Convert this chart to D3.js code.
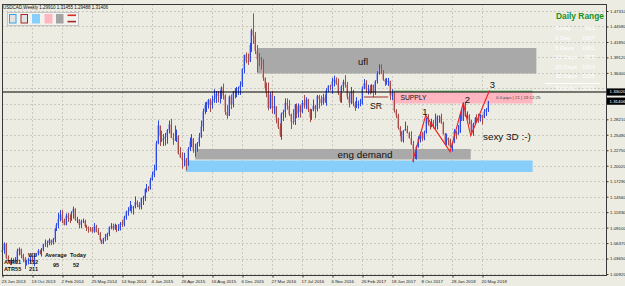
<!DOCTYPE html>
<html>
<head>
<meta charset="utf-8">
<script src="https://cdn.jsdelivr.net/npm/d3@7"></script>
<style>
  body { margin: 0; background: #ecece2; }
  svg { display: block; }
  text { font-family: "Liberation Sans", Arial, sans-serif; }
</style>
</head>
<body>
<svg id="chart" width="625" height="286"></svg>
<script>
// USDCAD weekly, 23 Jun 2013 .. 10 Jun 2018 (open of a week = close of the week before)
const firstOpen = 1.0480
const closes = [
  // 2013
  1.0515,1.0620,1.0380,1.0320,1.0290,1.0320,1.0300,1.0310,1.0500,1.0530,1.0430,1.0360,1.0300,1.0310,
  1.0320,1.0360,1.0320,1.0420,1.0450,1.0500,1.0450,1.0520,1.0620,1.0640,1.0640,1.0690,1.0640,1.0700,
  // 2014
  1.0890,1.0960,1.1060,1.1140,1.1040,1.0960,1.1120,1.1080,1.1060,1.1170,1.1240,1.1050,1.1050,
  1.0960,1.1020,1.1030,1.0930,1.0920,1.0890,1.0880,1.0840,1.0930,1.0840,1.0810,1.0690,1.0640,
  1.0720,1.0740,1.0800,1.0920,1.0940,1.0890,1.0960,1.0870,1.0880,1.0980,1.0960,1.1090,1.1190,
  1.1200,1.1290,1.1250,1.1280,1.1360,1.1320,1.1270,1.1430,1.1430,1.1590,1.1600,1.1590,1.1750,
  // 2015
  1.1840,1.1920,1.2400,1.2710,1.2520,1.2450,1.2480,1.2510,1.2630,1.2730,1.2490,1.2460,1.2460,
  1.2520,1.2220,1.2150,1.2110,1.2110,1.2010,1.2300,1.2430,1.2480,1.2270,1.2270,1.2400,1.2510,
  1.2690,1.2960,1.3070,1.3080,1.3160,1.3070,1.3150,1.3180,1.3270,1.3240,1.3250,1.3380,1.3240,
  1.2950,1.2880,1.3220,1.3080,1.3310,1.3330,1.3350,1.3370,1.3420,1.3710,1.3960,1.3850,1.3840,
  // 2016
  1.4130,1.4390,1.4300,1.4030,1.3880,1.3850,1.3770,1.3550,1.3370,1.3280,1.3020,1.3260,1.3020,
  1.3050,1.2840,1.2680,1.2550,1.2910,1.2950,1.3110,1.3060,1.2910,1.2780,1.2770,1.3080,1.2920,
  1.3060,1.2950,1.3110,1.3060,1.3170,1.3000,1.2850,1.2980,1.3060,1.3000,1.3230,1.3180,1.3110,
  1.3210,1.3130,1.3330,1.3410,1.3400,1.3490,1.3520,1.3450,1.3280,1.3150,1.3400,1.3480,1.3430,
  // 2017
  1.3220,1.3110,1.3300,1.3100,1.3020,1.3070,1.3090,1.3090,1.3380,1.3460,1.3350,1.3360,1.3300,
  1.3430,1.3300,1.3490,1.3650,1.3720,1.3660,1.3520,1.3480,1.3480,1.3500,1.3240,1.3290,1.2970,
  1.2890,1.2670,1.2590,1.2440,1.2620,1.2650,1.2580,1.2490,1.2380,1.2130,1.2190,1.2340,1.2480,
  1.2560,1.2480,1.2590,1.2840,1.2750,1.2690,1.2770,1.2700,1.2700,1.2870,1.2870,1.2760,1.2560,
  // 2018
  1.2400,1.2490,1.2450,1.2330,1.2400,1.2610,1.2550,1.2590,1.2900,1.2800,1.3110,1.2880,
  1.2890,1.2800,1.2600,1.2740,1.2840,1.2830,1.2800,1.2900,1.2850,1.2960,1.2991,1.31406
]
const highs = [
  1.0610,1.0650,1.0640,1.0420,1.0330,1.0380,1.0370,1.0390,1.0540,1.0560,1.0540,1.0450,1.0390,1.0340,
  1.0380,1.0410,1.0410,1.0440,1.0460,1.0530,1.0520,1.0550,1.0620,1.0700,1.0680,1.0720,1.0700,1.0730,
  1.0900,1.0990,1.1170,1.1220,1.1220,1.1070,1.1160,1.1170,1.1140,1.1200,1.1280,1.1250,1.1100,
  1.1060,1.1050,1.1070,1.1050,1.0960,1.0930,1.0920,1.0920,1.0990,1.0960,1.0900,1.0830,1.0700,
  1.0730,1.0800,1.0820,1.0930,1.0990,1.0980,1.0980,1.0960,1.0970,1.1010,1.1050,1.1120,1.1210,
  1.1270,1.1380,1.1310,1.1290,1.1460,1.1390,1.1360,1.1440,1.1470,1.1600,1.1680,1.1640,1.1790,
  1.1900,1.2020,1.2440,1.2800,1.2710,1.2620,1.2560,1.2580,1.2650,1.2800,1.2830,1.2580,1.2710,
  1.2640,1.2540,1.2330,1.2240,1.2230,1.2140,1.2330,1.2500,1.2560,1.2490,1.2390,1.2420,1.2580,
  1.2800,1.3010,1.3120,1.3130,1.3180,1.3190,1.3240,1.3350,1.3320,1.3320,1.3330,1.3400,1.3450,
  1.3260,1.3070,1.3240,1.3260,1.3320,1.3370,1.3390,1.3400,1.3490,1.3720,1.3960,1.4000,1.3980,
  1.4170,1.4420,1.4690,1.4360,1.4130,1.3990,1.3920,1.3880,1.3560,1.3470,1.3470,1.3300,1.3320,
  1.3230,1.3050,1.2850,1.2750,1.2940,1.2990,1.3190,1.3190,1.3160,1.2920,1.3000,1.3090,1.3100,
  1.3100,1.3080,1.3160,1.3250,1.3210,1.3180,1.3010,1.3000,1.3170,1.3070,1.3250,1.3250,1.3240,
  1.3270,1.3260,1.3370,1.3420,1.3430,1.3550,1.3590,1.3560,1.3540,1.3280,1.3420,1.3520,1.3600,
  1.3480,1.3290,1.3390,1.3340,1.3140,1.3210,1.3150,1.3180,1.3400,1.3530,1.3510,1.3430,1.3420,
  1.3440,1.3430,1.3510,1.3670,1.3790,1.3790,1.3690,1.3540,1.3550,1.3550,1.3500,1.3350,1.3300,
  1.3000,1.2920,1.2700,1.2610,1.2630,1.2780,1.2710,1.2600,1.2610,1.2440,1.2280,1.2360,1.2520,
  1.2600,1.2600,1.2620,1.2850,1.2910,1.2760,1.2830,1.2810,1.2920,1.2890,1.2890,1.2920,1.2780,
  1.2580,1.2570,1.2500,1.2480,1.2410,1.2650,1.2620,1.2720,1.2930,1.3000,1.3120,1.3125,
  1.2960,1.2910,1.2810,1.2760,1.2860,1.2910,1.2920,1.2910,1.2900,1.3000,1.3020,1.31455
]
const lows = [
  1.0420,1.0450,1.0360,1.0290,1.0250,1.0250,1.0280,1.0280,1.0290,1.0420,1.0370,1.0300,1.0180,1.0240,
  1.0260,1.0290,1.0300,1.0230,1.0400,1.0420,1.0440,1.0400,1.0490,1.0570,1.0560,1.0600,1.0600,1.0610,
  1.0650,1.0850,1.0900,1.1020,1.0990,1.0950,1.0950,1.1010,1.0990,1.1030,1.1070,1.1030,1.0990,
  1.0900,1.0900,1.0990,1.0910,1.0850,1.0820,1.0840,1.0820,1.0820,1.0830,1.0780,1.0680,1.0620,
  1.0620,1.0670,1.0690,1.0760,1.0880,1.0860,1.0870,1.0830,1.0850,1.0860,1.0920,1.0930,1.1050,
  1.1120,1.1200,1.1160,1.1140,1.1250,1.1270,1.1230,1.1230,1.1310,1.1380,1.1530,1.1550,1.1580,
  1.1740,1.1800,1.1920,1.2380,1.2350,1.2420,1.2350,1.2360,1.2390,1.2570,1.2490,1.2370,1.2440,
  1.2420,1.2200,1.2140,1.1950,1.1990,1.1920,1.2000,1.2260,1.2330,1.2230,1.2160,1.2250,1.2340,
  1.2490,1.2610,1.2910,1.2950,1.3010,1.2950,1.3010,1.3110,1.3110,1.3120,1.3100,1.3180,1.3170,
  1.2900,1.2830,1.2930,1.3000,1.3030,1.3190,1.3210,1.3250,1.3250,1.3390,1.3630,1.3810,1.3780,
  1.3830,1.4010,1.4150,1.3970,1.3650,1.3760,1.3700,1.3500,1.3330,1.3210,1.2980,1.3000,1.2920,
  1.2910,1.2750,1.2650,1.2510,1.2460,1.2790,1.2850,1.2990,1.2880,1.2650,1.2730,1.2720,1.2840,
  1.2850,1.2850,1.2930,1.3010,1.3000,1.2950,1.2770,1.2810,1.2960,1.2840,1.2960,1.3010,1.3060,
  1.3080,1.3110,1.3060,1.3300,1.3330,1.3270,1.3400,1.3430,1.3250,1.3120,1.3110,1.3320,1.3380,
  1.3170,1.3030,1.3090,1.3050,1.2970,1.3020,1.3010,1.3050,1.3080,1.3350,1.3290,1.3260,1.3260,
  1.3280,1.3210,1.3250,1.3450,1.3610,1.3620,1.3500,1.3410,1.3430,1.3410,1.3160,1.3160,1.2940,
  1.2840,1.2640,1.2520,1.2420,1.2410,1.2620,1.2570,1.2480,1.2370,1.2060,1.2120,1.2110,1.2320,
  1.2410,1.2440,1.2450,1.2570,1.2710,1.2640,1.2680,1.2660,1.2650,1.2640,1.2760,1.2740,1.2550,
  1.2360,1.2360,1.2360,1.2320,1.2250,1.2400,1.2470,1.2550,1.2580,1.2790,1.2790,1.2860,
  1.2830,1.2730,1.2580,1.2530,1.2720,1.2770,1.2760,1.2780,1.2730,1.2840,1.2880,1.29488
]

// current week, as printed in the title
const lastBar = ['1.29910', '1.31455', '1.29488', '1.31406']

const priceTicks = [1.00920, 1.03650, 1.06370, 1.09100, 1.11830, 1.14560, 1.17290, 1.20020, 1.22750,
  1.25480, 1.28210, 1.30940, 1.33670, 1.36400, 1.39120, 1.41850, 1.44580, 1.47310]
const dateLabels = ['23 Jun 2013', '13 Oct 2013', '2 Feb 2014', '25 May 2014', '14 Sep 2014', '4 Jan 2015',
  '26 Apr 2015', '16 Aug 2015', '6 Dec 2015', '27 Mar 2016', '17 Jul 2016', '6 Nov 2016', '26 Feb 2017',
  '18 Jun 2017', '8 Oct 2017', '28 Jan 2018', '20 May 2018']
const dateWeeks = [0, 16, 32, 48, 64, 80, 96, 112, 128, 144, 160, 176, 192, 208, 224, 240, 256]

// drawn objects: [first week, last week, price top, price bottom]
const uflZone = [136, 285, 1.4078, 1.3628]
const supplyZone = [208, 283, 1.3292, 1.3100]
const engZone = [103, 250, 1.2297, 1.2112]
const blueZone = [98, 283, 1.2094, 1.1891]
const srLine = [193, 206, 1.3214]
const greenLine = [208, 283, 1.3318]
const hLinePrice = 1.33020
const lastPrice = 1.31406

const zigWeeks = [219, 226, 239, 246, 250, 260]
const zigPrices = [1.2080, 1.2890, 1.2250, 1.3110, 1.2530, 1.3330]

const rangeNames = ['Today', '1 Day', '5 Days', '10 Days', '20 Days', '30 Days']
const rangeValues = [522, 1607, 1001, 975, 1054, 1025]

const svg = d3.select('#chart')
const plot = { left: 2, right: 606, top: 4, bottom: 275 }

const x = d3.scaleLinear().domain([0, 256]).range([2, 482])
const y = d3.scaleLinear().domain([1.0092, 1.4731]).range([274, 11])

svg.append('rect').attr('width', 625).attr('height', 286).attr('fill', '#ecece2')

// grid
const grid = svg.append('g').attr('stroke', '#c9c9bf').attr('stroke-dasharray', '2,2')
grid.selectAll('.hg').data(priceTicks).join('line')
  .attr('x1', plot.left).attr('x2', plot.right)
  .attr('y1', d => Math.round(y(d)) + 0.5).attr('y2', d => Math.round(y(d)) + 0.5)
grid.selectAll('.vg').data(dateWeeks).join('line')
  .attr('x1', d => Math.round(x(d)) + 0.5).attr('x2', d => Math.round(x(d)) + 0.5)
  .attr('y1', plot.top).attr('y2', plot.bottom)

// zones
function zone(z, color) {
  svg.append('rect')
    .attr('x', x(z[0])).attr('width', x(z[1]) - x(z[0]))
    .attr('y', y(z[2])).attr('height', y(z[3]) - y(z[2]))
    .attr('fill', color)
}
zone(uflZone, '#a9a9a9')
zone(supplyZone, '#ffb6c1')
zone(engZone, '#a9a9a9')
zone(blueZone, '#87cefa')

svg.append('line')
  .attr('x1', x(greenLine[0])).attr('x2', x(greenLine[1]))
  .attr('y1', y(greenLine[2])).attr('y2', y(greenLine[2]))
  .attr('stroke', '#2e9a2e').attr('stroke-width', 0.8)

// weekly bars
const weeks = closes.map((c, i) => ({ i, o: i ? closes[i - 1] : firstOpen, h: highs[i], l: lows[i], c }))
const bars = svg.append('g')
bars.selectAll('.body').data(weeks).join('rect')
  .attr('x', d => Math.round(x(d.i)) - 1)
  .attr('width', 2)
  .attr('y', d => y(Math.max(d.o, d.c)))
  .attr('height', d => Math.max(0.6, Math.abs(y(d.o) - y(d.c))))
  .attr('fill', d => d.c >= d.o ? '#a9b2ee' : '#d9a9a6')
bars.selectAll('.wick').data(weeks).join('line')
  .attr('x1', d => Math.round(x(d.i)) + 0.5).attr('x2', d => Math.round(x(d.i)) + 0.5)
  .attr('y1', d => y(Math.max(d.h, d.o, d.c))).attr('y2', d => y(Math.min(d.l, d.o, d.c)))
  .attr('stroke', d => d.c >= d.o ? '#2c4ae2' : '#a84a46')
  .attr('stroke-width', 1)

// horizontal line and SR
svg.append('line')
  .attr('x1', plot.left).attr('x2', plot.right)
  .attr('y1', y(hLinePrice)).attr('y2', y(hLinePrice))
  .attr('stroke', '#000').attr('stroke-width', 1)
svg.append('line')
  .attr('x1', x(srLine[0])).attr('x2', x(srLine[1]))
  .attr('y1', y(srLine[2])).attr('y2', y(srLine[2]))
  .attr('stroke', '#a52a2a').attr('stroke-width', 1)

// zigzag
const zig = zigWeeks.map((w, i) => [x(w), y(zigPrices[i])])
svg.append('path').attr('d', d3.line()(zig))
  .attr('fill', 'none').attr('stroke', '#f02020').attr('stroke-width', 1.1)

// labels on the chart
function label(t, px, py, size, opts = {}) {
  return svg.append('text').attr('x', px).attr('y', py)
    .attr('font-size', size).attr('dominant-baseline', 'middle')
    .attr('text-anchor', opts.anchor || 'start')
    .attr('font-weight', opts.weight || 'normal')
    .attr('fill', opts.fill || '#111').text(t)
}
label('ufl', 363, 62, 9.5, { anchor: 'middle' })
label('SR', 376, 106.5, 8.6, { anchor: 'middle' })
label('SUPPLY', 400.5, 98, 6.7)
label('0.0 pips | 21 | 23:12:25', 496, 98, 4.4, { fill: '#444' })
label('eng demand', 365, 155.5, 9.9, { anchor: 'middle' })
label('sexy 3D :-)', 483, 137.5, 9.9)
label('1', 425, 112, 9.5, { anchor: 'middle' })
label('2', 467.5, 100, 9.5, { anchor: 'middle' })
label('3', 492.5, 85.5, 9.5, { anchor: 'middle' })

// frame
svg.append('rect')
  .attr('x', plot.left + 0.5).attr('y', plot.top + 0.5)
  .attr('width', plot.right - plot.left).attr('height', plot.bottom - plot.top)
  .attr('fill', 'none').attr('stroke', '#3a3a3a').attr('stroke-width', 1)

// axes (tick labels hidden behind the price boxes are left out, as in the terminal)
const boxPrices = [hLinePrice, lastPrice]
const shownTicks = priceTicks.filter(t => boxPrices.every(p => Math.abs(y(t) - y(p)) > 7))
const yAxis = d3.axisRight(y).tickValues(shownTicks).tickSize(2).tickFormat(d3.format('.5f'))
const yAxisG = svg.append('g').attr('transform', `translate(${plot.right + 0.5},0)`).call(yAxis)
yAxisG.select('.domain').remove()
yAxisG.selectAll('text').attr('x', 3.5).attr('font-size', 4.4).attr('fill', '#222')
  .attr('font-family', '"Liberation Sans", Arial, sans-serif')
yAxisG.selectAll('line').attr('stroke', '#333')

const xAxis = d3.axisBottom(x).tickValues(dateWeeks).tickSize(2).tickFormat((d, i) => dateLabels[i])
const xAxisG = svg.append('g').attr('transform', `translate(0.5,${plot.bottom + 0.5})`).call(xAxis)
xAxisG.select('.domain').remove()
xAxisG.selectAll('text').attr('text-anchor', 'start').attr('x', -1.5).attr('y', 4)
  .attr('font-size', 4.4).attr('fill', '#222')
  .attr('font-family', '"Liberation Sans", Arial, sans-serif')
xAxisG.selectAll('line').attr('stroke', '#333')

// price boxes on the axis
function priceBox(p) {
  const g = svg.append('g').attr('transform', `translate(${plot.right + 1},${y(p)})`)
  g.append('rect').attr('x', 0).attr('y', -3.6).attr('width', 19).attr('height', 7.2).attr('fill', '#000')
  g.append('text').attr('x', 2.5).attr('y', 0.2).attr('dominant-baseline', 'middle')
    .attr('font-size', 4.4).attr('fill', '#fff').text(d3.format('.5f')(p))
}
boxPrices.forEach(priceBox)

// title
label(`USDCAD,Weekly  ${lastBar.join(' ')}`, 3, 7.5, 4.5, { fill: '#111' })

// tool panel
const tools = svg.append('g')
tools.append('rect').attr('x', 7.5).attr('y', 12.5).attr('width', 71).attr('height', 13)
  .attr('fill', '#f3f3ee').attr('stroke', '#c4c4c4')
tools.append('rect').attr('x', 9.5).attr('y', 14.5).attr('width', 6.5).attr('height', 8.5)
  .attr('fill', '#e2e2e2').attr('stroke', '#34a0f0')
tools.append('rect').attr('x', 21).attr('y', 14.5).attr('width', 6.5).attr('height', 8.5)
  .attr('fill', '#e2e2e2').attr('stroke', '#a02828')
tools.append('rect').attr('x', 32).attr('y', 14).attr('width', 8).attr('height', 9.5).attr('fill', '#87cefa')
tools.append('rect').attr('x', 44.5).attr('y', 14).attr('width', 8).attr('height', 9.5).attr('fill', '#ffb6c1')
tools.append('rect').attr('x', 56).attr('y', 14).attr('width', 7.5).attr('height', 9.5).attr('fill', '#a3a3a3')
tools.append('rect').attr('x', 67.5).attr('y', 14.5).attr('width', 8.5).attr('height', 1.6).attr('fill', '#e02828')
tools.append('rect').attr('x', 67.5).attr('y', 20.8).attr('width', 8.5).attr('height', 1.6).attr('fill', '#a02828')

// daily range panel
label('Daily Range', 556, 17, 8.4, { weight: 'bold', fill: '#1a8f1a' })
const rowY = [28, 38, 48, 57.5, 67, 76]
rangeNames.forEach((n, i) => {
  label(n, 555, rowY[i], 6, { fill: '#fff' })
  label(String(rangeValues[i]), 595, rowY[i], 6, { fill: '#fff', anchor: 'end' })
})
svg.append('line').attr('x1', 545).attr('x2', 600).attr('y1', 83.5).attr('y2', 83.5).attr('stroke', '#fff')
label('Total Av', 555, 88.5, 6, { fill: '#fff' })
label('1131', 595, 88.5, 6, { fill: '#fff', anchor: 'end' })

// ATR block
label('W1', 28, 255.5, 5.6, { weight: 'bold' })
label('Average', 45, 255.5, 5.6, { weight: 'bold' })
label('Today', 70, 255.5, 5.6, { weight: 'bold' })
label('ATR11', 4, 263, 5.6, { weight: 'bold' })
label('112', 29, 263, 5.6, { weight: 'bold' })
label('ATR55', 4, 270, 5.6, { weight: 'bold' })
label('211', 29, 270, 5.6, { weight: 'bold' })
label('95', 53, 266, 5.6, { weight: 'bold' })
label('52', 73, 266, 5.6, { weight: 'bold' })
</script>
</body>
</html>
